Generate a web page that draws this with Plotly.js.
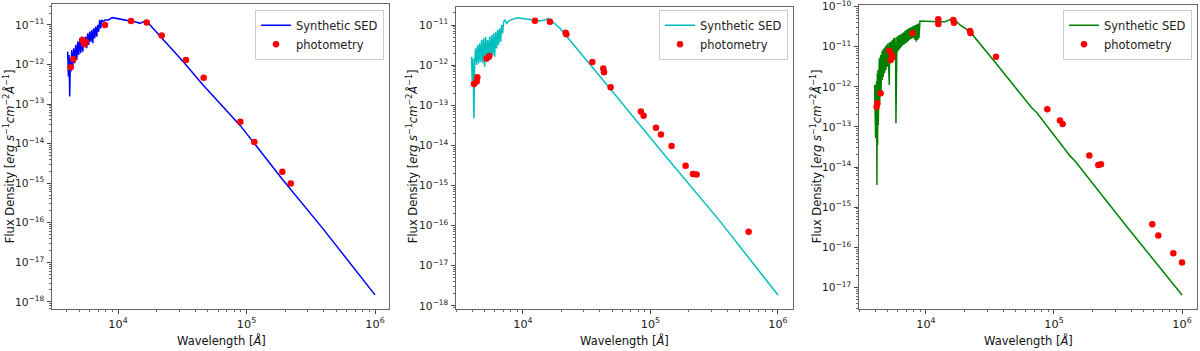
<!DOCTYPE html>
<html>
<head>
<meta charset="utf-8">
<script src="https://cdn.plot.ly/plotly-3.0.1.min.js"></script>
<style>body{margin:0;background:#fff;}</style>
</head>
<body>
<div id="graph" style="width:1200px;height:351px;"></div>
<script>
// panel 1 (blue model)
const modelWl1 = [4056, 4108, 4156, 4206, 4256, 4307, 4359, 4438, 4519, 4600, 4683, 4768, 4854, 4942, 5031, 5121, 5214, 5309, 5405, 5503, 5602, 5703, 5806, 5911, 6018, 6127, 6237, 6350, 6465, 6582, 6701, 6822, 6945, 7071, 7198, 7328, 7461, 7687, 7920, 8409, 9034, 10680, 12620, 13970, 14830, 15740, 16710, 17740, 32200, 46100, 89500, 190000, 396000, 1000000];
const modelF1 = [2.12e-12, 4.96e-13, 1.75e-12, 1.55e-13, 1.44e-12, 6.64e-13, 2.34e-12, 8.05e-13, 2.58e-12, 1.08e-12, 3.12e-12, 1.31e-12, 3.79e-12, 1.75e-12, 4.6e-12, 1.93e-12, 5.07e-12, 2.12e-12, 4.18e-12, 2.84e-12, 5.07e-12, 2.58e-12, 6.16e-12, 3.12e-12, 6.79e-12, 3.79e-12, 7.48e-12, 3.44e-12, 8.24e-12, 4.6e-12, 9.08e-12, 5.07e-12, 1.0e-11, 6.79e-12, 1.34e-11, 8.24e-12, 1.34e-11, 1.21e-11, 1.34e-11, 1.34e-11, 1.53e-11, 1.39e-11, 1.26e-11, 1.17e-11, 1.1e-11, 1.21e-11, 1.26e-11, 1.0e-11, 1.17e-12, 3.0e-13, 2.85e-14, 1.26e-15, 6.9e-17, 1.5e-18];
const photWl1 = [4281, 4492, 5277, 5470, 5602, 7920, 12620, 16710, 21870, 33800, 46400, 89500, 115000, 190000, 221000];
const photF1 = [8.5e-13, 1.36e-12, 4.18e-12, 3.25e-12, 3.79e-12, 1.0e-11, 1.26e-11, 1.15e-11, 5.4e-12, 1.31e-12, 4.6e-13, 3.6e-14, 1.1e-14, 1.95e-15, 9.8e-16];

// panel 2 (cyan model)
const modelWl2 = [3957, 4005, 4054, 4128, 4178, 4254, 4331, 4410, 4490, 4572, 4656, 4741, 4828, 4916, 5006, 5097, 5190, 5285, 5380, 5479, 5579, 5681, 5784, 5889, 5997, 6106, 6218, 6331, 6447, 6561, 6683, 6805, 6928, 7054, 7226, 7445, 7909, 8401, 9028, 12050, 13600, 14880, 15800, 16790, 19500, 48000, 118800, 350600, 1000000];
const modelF2 = [1.62e-12, 3.51e-13, 1.47e-12, 4.71e-14, 1.11e-12, 2.62e-12, 1.01e-12, 3.17e-12, 1.11e-12, 3.49e-12, 1.22e-12, 4.23e-12, 1.11e-12, 4.65e-12, 9.14e-13, 5.12e-12, 1.22e-12, 4.23e-12, 1.47e-12, 5.12e-12, 1.34e-12, 5.63e-12, 1.79e-12, 6.2e-12, 1.62e-12, 6.82e-12, 2.62e-12, 7.5e-12, 3.17e-12, 8.26e-12, 3.84e-12, 1.0e-11, 6.2e-12, 1.21e-11, 1.33e-11, 1.1e-11, 1.33e-11, 1.41e-11, 1.52e-11, 1.33e-11, 1.26e-11, 1.33e-11, 1.47e-11, 1.26e-11, 8.3e-12, 2.64e-13, 7.9e-15, 1.29e-16, 1.85e-18];
const photWl2 = [4130, 4340, 4390, 5190, 5450, 12420, 16280, 21600, 21900, 35000, 42700, 43200, 48700, 84100, 88400, 110500, 120900, 146500, 188600, 215300, 230000, 589000];
const photF2 = [3.4e-13, 3.9e-13, 5.0e-13, 1.47e-12, 1.69e-12, 1.28e-11, 1.21e-11, 6.4e-12, 5.9e-12, 1.19e-12, 8.3e-13, 6.7e-13, 2.8e-13, 7.0e-14, 5.5e-14, 2.75e-14, 1.87e-14, 9.6e-15, 3.1e-15, 1.92e-15, 1.89e-15, 7.0e-17];

// panel 3 (green model)
const modelWl3 = [3972, 3996, 4020, 4044, 4068, 4093, 4117, 4142, 4167, 4192, 4217, 4243, 4268, 4294, 4320, 4345, 4372, 4398, 4424, 4452, 4479, 4506, 4533, 4560, 4588, 4643, 4699, 4755, 4812, 4870, 4928, 4987, 5047, 5108, 5170, 5201, 5264, 5327, 5391, 5458, 5523, 5589, 5656, 5724, 5794, 5829, 5864, 5934, 6007, 6080, 6153, 6227, 6302, 6378, 6455, 6533, 6611, 6691, 6772, 6853, 6937, 7020, 7105, 7190, 7278, 7365, 7454, 7543, 7634, 7727, 7820, 7914, 8010, 8107, 8204, 8303, 8403, 8504, 8607, 8710, 8815, 8922, 8975, 12486, 14077, 15400, 16355, 18437, 22074, 33570, 57590, 66950, 73250, 118300, 133400, 145900, 179900, 369500, 1000000];
const modelF3 = [1.12e-12, 7.64e-14, 7.6e-13, 5.21e-14, 9.2e-13, 2.42e-14, 1.35e-12, 3.58e-15, 2.18e-12, 3.56e-14, 2.64e-12, 1.12e-13, 4.26e-12, 1.99e-13, 5.15e-12, 3.54e-13, 6.24e-12, 5.19e-13, 6.24e-12, 7.6e-13, 6.87e-12, 1.12e-12, 7.56e-12, 1.49e-12, 8.32e-12, 1.8e-12, 9.16e-12, 2.18e-12, 1.01e-11, 2.64e-12, 1.11e-11, 3.19e-12, 1.22e-11, 3.52e-12, 1.12e-12, 1.29e-11, 3.87e-12, 1.34e-11, 4.69e-12, 1.48e-11, 5.67e-12, 1.63e-11, 6.24e-12, 1.69e-11, 6.87e-12, 1.23e-13, 7.56e-12, 1.79e-11, 7.56e-12, 1.9e-11, 8.32e-12, 1.97e-11, 9.16e-12, 2.05e-11, 1.01e-11, 2.17e-11, 1.11e-11, 2.3e-11, 1.15e-11, 2.48e-11, 1.22e-11, 2.62e-11, 1.29e-11, 2.78e-11, 1.4e-11, 2.89e-11, 1.48e-11, 3.0e-11, 1.57e-11, 3.12e-11, 1.63e-11, 3.24e-11, 1.63e-11, 3.37e-11, 1.48e-11, 3.5e-11, 1.34e-11, 3.63e-11, 1.48e-11, 3.78e-11, 1.63e-11, 4.07e-11, 4.4e-11, 4.23e-11, 4.23e-11, 4.75e-11, 5.13e-11, 3.5e-11, 2.38e-11, 4.69e-12, 5.19e-13, 3.0e-13, 2.3e-13, 3.23e-14, 1.9e-14, 1.42e-14, 6.1e-15, 3.3e-16, 6.46e-18];
const photWl3 = [4117, 4167, 4424, 5170, 5297, 5426, 5492, 7866, 12485, 12485, 16350, 16550, 22070, 22300, 35240, 88700, 111400, 116900, 188800, 222000, 232900, 586000, 653000, 855000, 1000000];
const photF3 = [3.2e-13, 3.9e-13, 6.9e-13, 8.0e-12, 4.7e-12, 6.2e-12, 5.5e-12, 2.17e-11, 4.84e-11, 3.71e-11, 4.66e-11, 4.0e-11, 2.48e-11, 2.2e-11, 5.67e-12, 2.75e-13, 1.44e-13, 1.19e-13, 1.93e-14, 1.13e-14, 1.17e-14, 3.74e-16, 1.95e-16, 7.08e-17, 4.14e-17];

const font = 'DejaVu Sans, Verdana, sans-serif';

function modelTrace(x, y, color, n) {
	return {
		x: x, y: y, type: 'scatter', mode: 'lines', name: 'Synthetic SED',
		line: {color: color, width: 1.5},
		xaxis: 'x' + (n == 1 ? '' : n), yaxis: 'y' + (n == 1 ? '' : n),
		legend: 'legend' + (n == 1 ? '' : n),
	};
}
function photTrace(x, y, n) {
	return {
		x: x, y: y, type: 'scatter', mode: 'markers', name: 'photometry',
		marker: {color: '#ff0000', size: 6.5},
		xaxis: 'x' + (n == 1 ? '' : n), yaxis: 'y' + (n == 1 ? '' : n),
		legend: 'legend' + (n == 1 ? '' : n),
	};
}

function logAxis(domain, range, anchor, size) {
	return {
		type: 'log', domain: domain, range: range, anchor: anchor,
		dtick: 1, exponentformat: 'power', showexponent: 'all',
		ticks: 'outside', ticklen: 4, tickcolor: '#444', tickwidth: 1,
		ticklabeloverflow: 'allow', ticklabelstandoff: 1,
		showline: true, linecolor: '#666', linewidth: 1, mirror: true,
		showgrid: false, zeroline: false,
		minor: {ticks: 'outside', ticklen: 2, tickcolor: '#666', showgrid: false},
		tickfont: {family: font, size: size, color: '#222'},
	};
}

function legendBox(xr) {
	return {
		x: xr, y: 0.972, xanchor: 'right', yanchor: 'top',
		bgcolor: 'rgba(255,255,255,0.85)', bordercolor: '#cccccc', borderwidth: 1,
		font: {family: font, size: 11.5, color: '#222'}, itemwidth: 30,
		tracegroupgap: 0,
	};
}

const yTitle = 'Flux Density [<i>erg s</i><sup>−1</sup><i>cm</i><sup>−2</sup><i>Å</i><sup>−1</sup>]';
const xTitle = 'Wavelength [<i>Å</i>]';

function titleNotes(cx, ylx, cy) {
	return [
		{text: xTitle, xref: 'paper', yref: 'paper', x: cx, y: 11 / 351, xanchor: 'center', yanchor: 'middle',
			showarrow: false, font: {family: font, size: 11.5, color: '#111'}},
		{text: yTitle, xref: 'paper', yref: 'paper', x: ylx, y: cy, xanchor: 'center', yanchor: 'middle',
			textangle: -90, showarrow: false, font: {family: font, size: 11.5, color: '#111'}},
	];
}

const data = [
	modelTrace(modelWl1, modelF1, '#0000ff', 1), photTrace(photWl1, photF1, 1),
	modelTrace(modelWl2, modelF2, '#00bfbf', 2), photTrace(photWl2, photF2, 2),
	modelTrace(modelWl3, modelF3, '#008000', 3), photTrace(photWl3, photF3, 3),
];

const layout = {
	width: 1200, height: 351,
	margin: {l: 0, r: 0, t: 0, b: 0},
	paper_bgcolor: '#ffffff', plot_bgcolor: '#ffffff',
	showlegend: true,
	xaxis: logAxis([52 / 1200, 389 / 1200], [3.486, 6.109], 'y', 9),
	yaxis: logAxis([42 / 351, 347 / 351], [-18.18, -10.47], 'x', 8.5),
	xaxis2: logAxis([456 / 1200, 793 / 1200], [3.475, 6.118], 'y2', 9),
	yaxis2: logAxis([42 / 351, 344 / 351], [-18.08, -10.55], 'x2', 8.5),
	xaxis3: logAxis([859 / 1200, 1197 / 1200], [3.477, 6.117], 'y3', 9),
	yaxis3: logAxis([42 / 351, 346 / 351], [-17.54, -9.958], 'x3', 8.5),
	legend: legendBox(384 / 1200),
	legend2: legendBox(788 / 1200),
	legend3: legendBox(1192 / 1200),
	annotations: [].concat(
		titleNotes(221 / 1200, 9 / 1200, 0.555),
		titleNotes(624 / 1200, 412 / 1200, 0.555),
		titleNotes(1028 / 1200, 816 / 1200, 0.555)
	),
};

Plotly.newPlot('graph', data, layout, {staticPlot: true});
</script>
</body>
</html>
